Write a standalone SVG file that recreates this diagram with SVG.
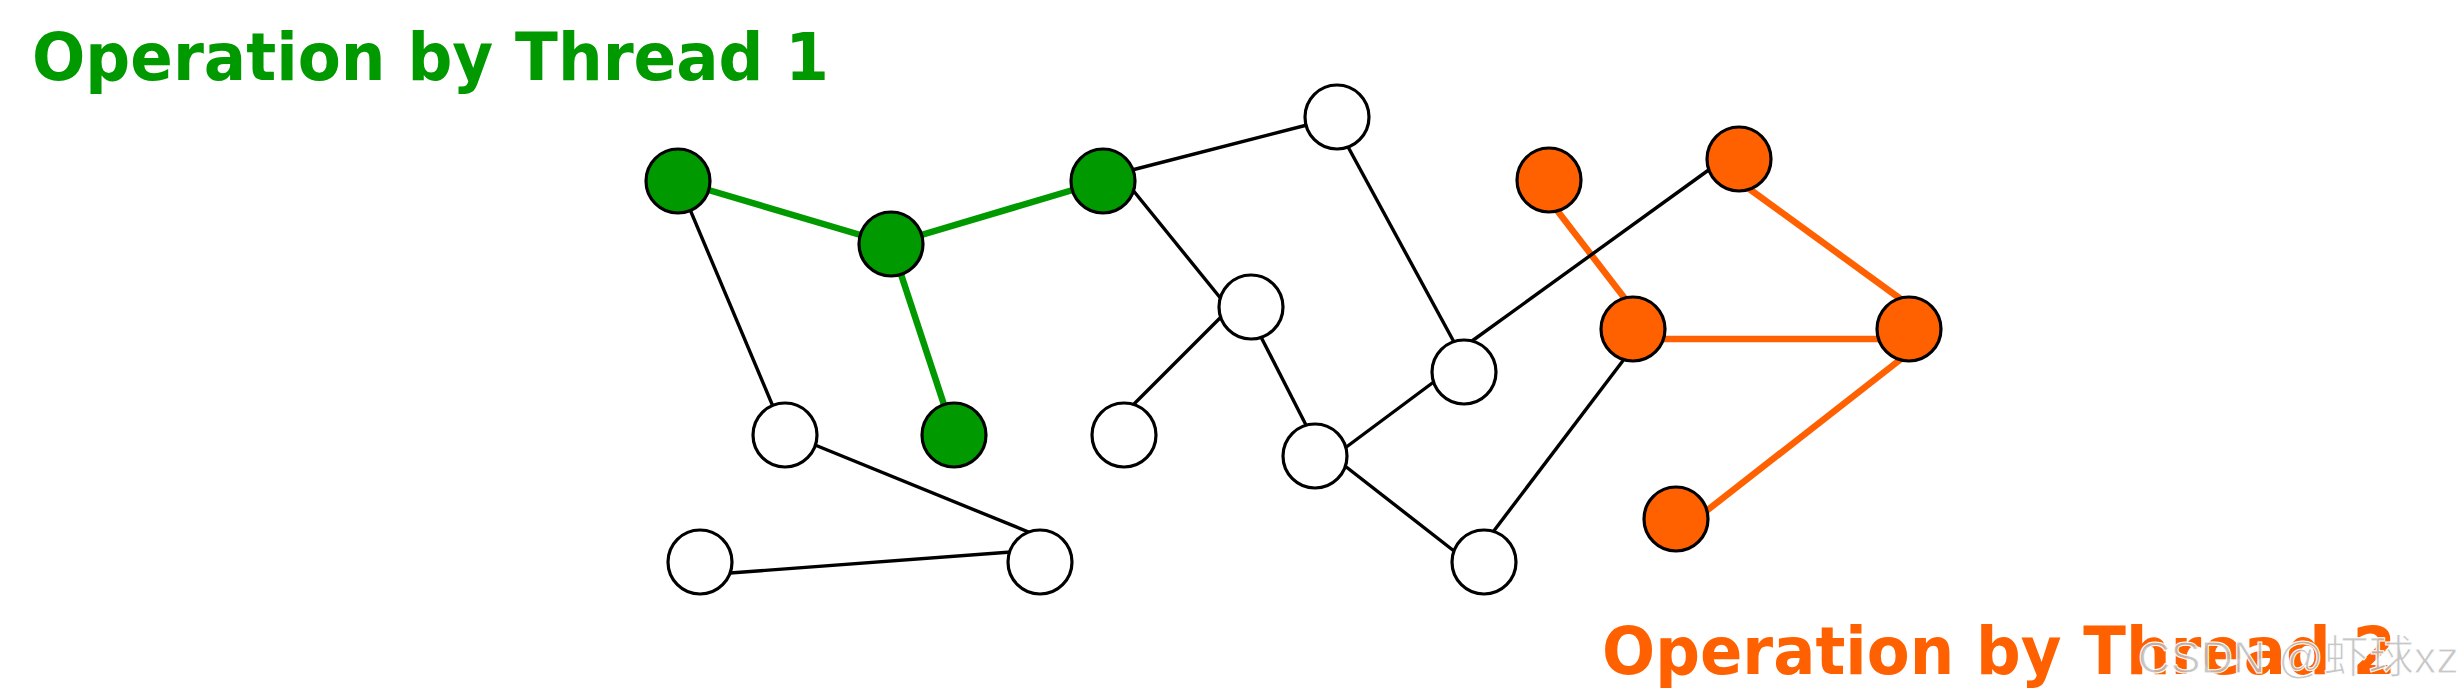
<svg xmlns="http://www.w3.org/2000/svg" width="2458" height="699" viewBox="0 0 2458 699">
<style>
.bg{fill:#ffffff}
.n circle{stroke:#000;stroke-width:3.2}
.w{fill:#ffffff}
.g{fill:#009900}
.o{fill:#ff6000}
.eb{stroke:#000;stroke-width:3.4;fill:none}
.eg{stroke:#009900;stroke-width:6.5}
.eo{stroke:#ff6000;stroke-width:6.5}
.title{font-family:"DejaVu Sans",Verdana,sans-serif;font-weight:bold;font-size:65px}
.wm{font-family:"Liberation Sans","Noto Sans CJK SC",sans-serif;font-size:45px;fill:#bdbdbd;fill-opacity:0.85;stroke:#ffffff;stroke-width:1}
</style>
<rect class="bg" x="0" y="0" width="2458" height="699"/>
<text x="32" y="80" class="title" fill="#009900" textLength="797" lengthAdjust="spacingAndGlyphs">Operation by Thread 1</text>
<text x="1602" y="674" class="title" fill="#ff6000" textLength="794" lengthAdjust="spacingAndGlyphs">Operation by Thread 2</text>
<g id="connectors">
<line class="eg" x1="678" y1="181" x2="891" y2="244"/>
<line class="eg" x1="891" y1="244" x2="1103" y2="181"/>
<line class="eg" x1="891" y1="244" x2="954" y2="435"/>
<line class="eo" x1="1556" y1="209" x2="1626" y2="300"/>
<line class="eo" x1="1748" y1="188" x2="1902" y2="300"/>
<line class="eo" x1="1662" y1="339" x2="1881" y2="339"/>
<line class="eo" x1="1901" y1="359" x2="1705" y2="512"/>
<line class="eb" x1="678" y1="181" x2="785" y2="435"/>
<line class="eb" x1="815" y1="445" x2="1031" y2="533"/>
<line class="eb" x1="730" y1="573" x2="1011" y2="552"/>
<line class="eb" x1="1132" y1="170" x2="1307" y2="125"/>
<line class="eb" x1="1132" y1="189" x2="1222" y2="300"/>
<line class="eb" x1="1222" y1="316" x2="1132" y2="406"/>
<line class="eb" x1="1261" y1="337" x2="1307" y2="427"/>
<line class="eb" x1="1347" y1="145" x2="1454" y2="342"/>
<line class="eb" x1="1345" y1="448" x2="1435" y2="381"/>
<line class="eb" x1="1345" y1="466" x2="1454" y2="551"/>
<line class="eb" x1="1472" y1="341" x2="1710" y2="169"/>
<line class="eb" x1="1493" y1="532" x2="1625" y2="358"/>
</g>
<g id="g1" class="n"><circle class="g" cx="678" cy="181" r="32"/></g>
<g id="g2" class="n"><circle class="g" cx="891" cy="244" r="32"/></g>
<g id="g3" class="n"><circle class="g" cx="1103" cy="181" r="32"/></g>
<g id="g4" class="n"><circle class="g" cx="954" cy="435" r="32"/></g>
<g id="w1" class="n"><circle class="w" cx="1337" cy="117" r="32"/></g>
<g id="w2" class="n"><circle class="w" cx="1251" cy="307" r="32"/></g>
<g id="w3" class="n"><circle class="w" cx="1124" cy="435" r="32"/></g>
<g id="w4" class="n"><circle class="w" cx="785" cy="435" r="32"/></g>
<g id="w5" class="n"><circle class="w" cx="700" cy="562" r="32"/></g>
<g id="w6" class="n"><circle class="w" cx="1040" cy="562" r="32"/></g>
<g id="w7" class="n"><circle class="w" cx="1315" cy="456" r="32"/></g>
<g id="w8" class="n"><circle class="w" cx="1464" cy="372" r="32"/></g>
<g id="w9" class="n"><circle class="w" cx="1484" cy="562" r="32"/></g>
<g id="o1" class="n"><circle class="o" cx="1549" cy="180" r="32"/></g>
<g id="o2" class="n"><circle class="o" cx="1739" cy="159" r="32"/></g>
<g id="o3" class="n"><circle class="o" cx="1633" cy="329" r="32"/></g>
<g id="o4" class="n"><circle class="o" cx="1909" cy="329" r="32"/></g>
<g id="o5" class="n"><circle class="o" cx="1676" cy="519" r="32"/></g>
<text x="2138" y="673" class="wm">CSDN @虾球xz</text>
</svg>
